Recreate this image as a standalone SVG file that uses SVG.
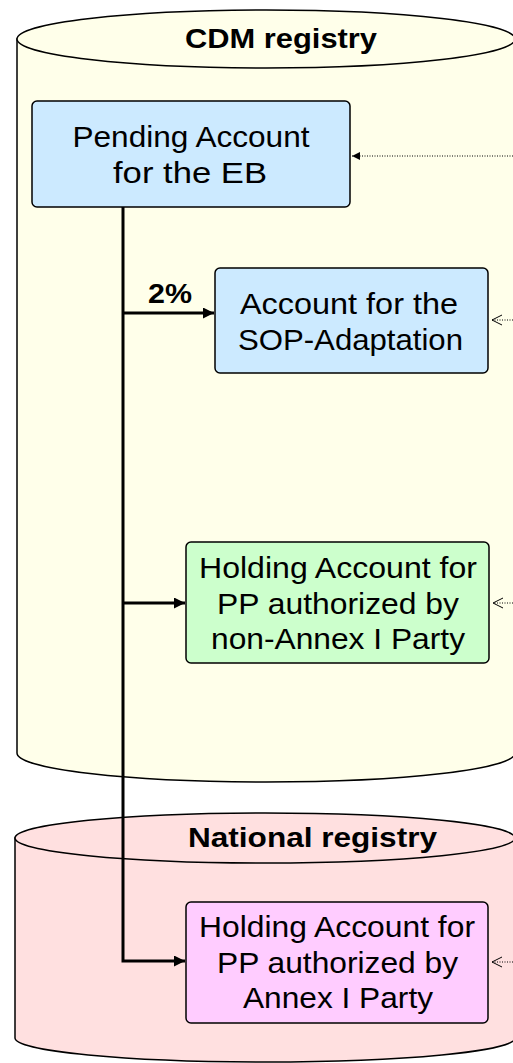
<svg xmlns="http://www.w3.org/2000/svg" width="513" height="1063" viewBox="0 0 513 1063">
<defs>
<style>
.cyl{stroke:#000;stroke-width:1.5}
.box{stroke:#000;stroke-width:1.5}
.t{font-family:"Liberation Sans",Arial,sans-serif;font-size:30px;fill:#000;text-anchor:middle}
.b{font-family:"Liberation Sans",Arial,sans-serif;font-size:27px;font-weight:bold;fill:#000;text-anchor:middle}
.flow{fill:none;stroke:#000;stroke-width:3}
.dot{fill:none;stroke:#000;stroke-width:1;stroke-dasharray:1 1.5}
</style>
<marker id="ah" viewBox="0 0 10 10" refX="10" refY="5" markerWidth="11" markerHeight="11" markerUnits="userSpaceOnUse" orient="auto">
<path d="M0,0 L10,5 L0,10 Z" fill="#000"/>
</marker>
<marker id="sh" viewBox="0 0 10 10" refX="10" refY="5" markerWidth="8" markerHeight="8" markerUnits="userSpaceOnUse" orient="auto">
<path d="M0,0 L10,5 L0,10 Z" fill="#000"/>
</marker>
<marker id="oh" viewBox="0 0 10 10" refX="10" refY="5" markerWidth="10" markerHeight="12" markerUnits="userSpaceOnUse" orient="auto">
<path d="M0,0 L10,5 L0,10" fill="none" stroke="#000" stroke-width="1"/>
</marker>
</defs>

<g id="cdm-registry">
<path class="cyl" fill="#ffffea" d="M17,39 L17,753 A249,29 0 0 0 515,753 L515,39 Z"/>
<ellipse class="cyl" fill="#ffffea" cx="266" cy="39" rx="249" ry="29"/>
<text class="b" x="281" y="48" textLength="192" lengthAdjust="spacingAndGlyphs">CDM registry</text>
</g>

<g id="national-registry">
<path class="cyl" fill="#ffe0e0" d="M15,838 L15,1038 A250,24 0 0 0 515,1038 L515,838 Z"/>
<ellipse class="cyl" fill="#ffe0e0" cx="265" cy="838" rx="250" ry="25"/>
<text class="b" x="312.5" y="847" textLength="249" lengthAdjust="spacingAndGlyphs">National registry</text>
</g>

<g id="pending-account">
<rect class="box" fill="#cceaff" x="32" y="101" width="318" height="106" rx="5"/>
<text class="t" x="191" y="147" textLength="237" lengthAdjust="spacingAndGlyphs">Pending Account</text>
<text class="t" x="190" y="183" textLength="154" lengthAdjust="spacingAndGlyphs">for the EB</text>
</g>

<g id="sop-adaptation">
<rect class="box" fill="#cceaff" x="215" y="268" width="273" height="105" rx="5"/>
<text class="t" x="349" y="314" textLength="218" lengthAdjust="spacingAndGlyphs">Account for the</text>
<text class="t" x="350.5" y="350" textLength="225" lengthAdjust="spacingAndGlyphs">SOP-Adaptation</text>
</g>

<g id="holding-non-annex">
<rect class="box" fill="#ccffcc" x="186" y="542" width="303" height="121" rx="5"/>
<text class="t" x="338" y="578" textLength="278" lengthAdjust="spacingAndGlyphs">Holding Account for</text>
<text class="t" x="338" y="614" textLength="242" lengthAdjust="spacingAndGlyphs">PP authorized by</text>
<text class="t" x="338" y="649" textLength="254" lengthAdjust="spacingAndGlyphs">non-Annex I Party</text>
</g>

<g id="holding-annex">
<rect class="box" fill="#ffccff" x="186" y="902" width="302" height="121" rx="5"/>
<text class="t" x="337" y="937" textLength="276" lengthAdjust="spacingAndGlyphs">Holding Account for</text>
<text class="t" x="337.5" y="973" textLength="241" lengthAdjust="spacingAndGlyphs">PP authorized by</text>
<text class="t" x="338" y="1008" textLength="190" lengthAdjust="spacingAndGlyphs">Annex I Party</text>
</g>

<g id="connectors">
<path class="flow" d="M123,207 L123,961 L185,961" marker-end="url(#ah)"/>
<path class="flow" stroke-width="2.5" d="M123,313 L214,313" marker-end="url(#ah)"/>
<path class="flow" stroke-width="2.5" d="M123,603 L185,603" marker-end="url(#ah)"/>
<text class="b" x="170" y="303" textLength="44" lengthAdjust="spacingAndGlyphs">2%</text>
<path class="dot" d="M513,156 L352,156" marker-end="url(#sh)"/>
<path class="dot" d="M513,320 L492,320" marker-end="url(#oh)"/>
<path class="dot" d="M513,603 L493,603" marker-end="url(#oh)"/>
<path class="dot" d="M513,962 L492,962" marker-end="url(#oh)"/>
</g>
</svg>
